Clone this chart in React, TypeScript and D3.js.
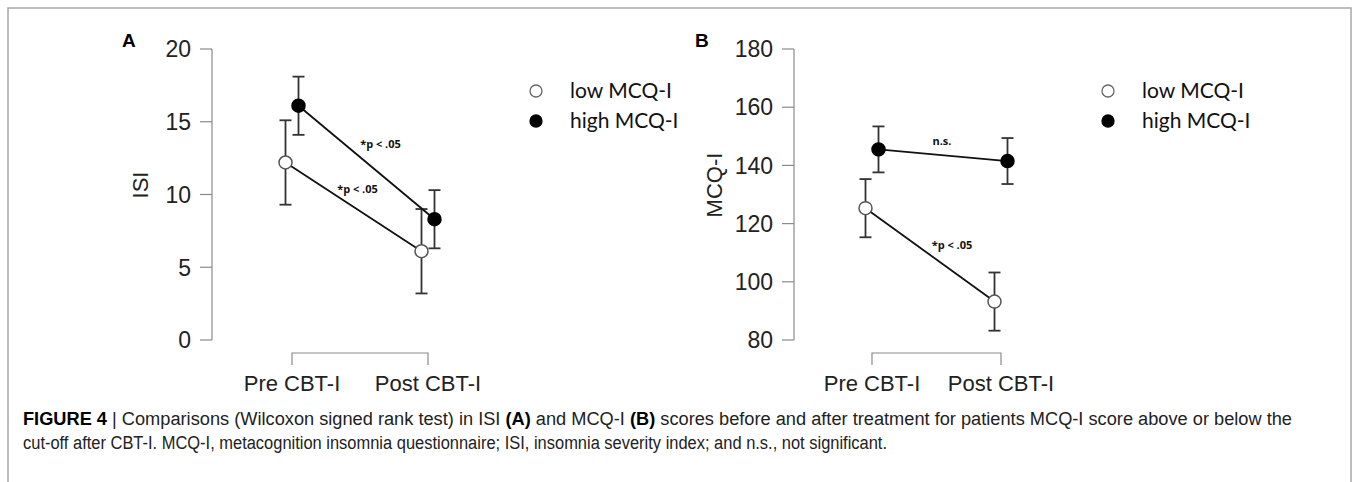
import React from "react";
import * as d3 from "d3";

// categories and values
const categories = ["Pre CBT-I", "Post CBT-I"];
const groups = ["low MCQ-I", "high MCQ-I"];

const isiTicks = [0, 5, 10, 15, 20];
const isiLow = [12.2, 6.1];
const isiLowErr = [2.9, 2.9];
const isiHigh = [16.1, 8.3];
const isiHighErr = [2.0, 2.0];
const isiNotes = ["*p < .05", "*p < .05"]; // low, high

const mcqTicks = [80, 100, 120, 140, 160, 180];
const mcqLow = [125.3, 93.2];
const mcqLowErr = [10.0, 10.0];
const mcqHigh = [145.5, 141.5];
const mcqHighErr = [7.9, 7.9];
const mcqNotes = ["*p < .05", "n.s."];

const captionLine1 = [
  { t: "FIGURE 4 ", b: true },
  { t: "|  Comparisons (Wilcoxon signed rank test) in ISI ", b: false },
  { t: "(A)", b: true },
  { t: " and MCQ-I ", b: false },
  { t: "(B)", b: true },
  { t: " scores before and after treatment for patients MCQ-I score above or below the", b: false },
];
const captionLine2 =
  "cut-off after CBT-I. MCQ-I, metacognition insomnia questionnaire; ISI, insomnia severity index; and n.s., not significant.";

const AXIS = "#8a8a8a";
const INK = "#222";

type PanelProps = {
  letter: string;
  letterX: number;
  axisX: number;
  xRange: [number, number];
  ticks: number[];
  yLabel: string;
  yLabelGap: number;
  low: number[];
  lowErr: number[];
  high: number[];
  highErr: number[];
  notes: string[];
  noteOffsets: [number, number][];
  legendX: number;
};

const Panel = (p: PanelProps) => {
  const y = d3
    .scaleLinear()
    .domain([p.ticks[0], p.ticks[p.ticks.length - 1]])
    .range([340, 49]);
  const x = d3.scalePoint<string>().domain(categories).range(p.xRange);
  const dodge = 6.5;
  const series = [
    { vals: p.low, err: p.lowErr, dx: -dodge, fill: "#fff", stroke: "#555" },
    { vals: p.high, err: p.highErr, dx: dodge, fill: "#000", stroke: "#000" },
  ];
  const line = d3
    .line<[number, number]>()
    .x((d) => d[0])
    .y((d) => d[1]);

  return (
    <g>
      <text
        x={p.letterX}
        y={47}
        fontFamily="Liberation Sans, Arial, sans-serif"
        fontWeight="bold"
        fontSize={19}
        fill="#000"
      >
        {p.letter}
      </text>

      {/* y axis */}
      <line x1={p.axisX} x2={p.axisX} y1={y.range()[1]} y2={y.range()[0]} stroke={AXIS} strokeWidth={1.2} />
      {p.ticks.map((t) => (
        <g key={t}>
          <line x1={p.axisX - 12} x2={p.axisX} y1={y(t)} y2={y(t)} stroke={AXIS} strokeWidth={1.2} />
          <text
            x={p.axisX - 21}
            y={y(t)}
            dy="0.36em"
            textAnchor="end"
            fontFamily="Liberation Sans, Arial, sans-serif"
            fontSize={23}
            fill={INK}
          >
            {t}
          </text>
        </g>
      ))}
      <text
        transform={`translate(${p.axisX - p.yLabelGap},${185}) rotate(-90)`}
        textAnchor="middle"
        fontFamily="Liberation Sans, Arial, sans-serif"
        fontSize={22}
        fill={INK}
      >
        {p.yLabel}
      </text>

      {/* x bracket */}
      <path
        d={`M${x(categories[0])},365V353H${x(categories[1])}V365`}
        fill="none"
        stroke={AXIS}
        strokeWidth={1.2}
      />
      {categories.map((c) => (
        <text
          key={c}
          x={x(c)}
          y={391}
          textAnchor="middle"
          fontFamily="Liberation Sans, Arial, sans-serif"
          fontSize={22}
          fill={INK}
        >
          {c}
        </text>
      ))}

      {/* lines, error bars, points */}
      {series.map((s, si) => {
        const pts: [number, number][] = categories.map((c, i) => [x(c)! + s.dx, y(s.vals[i])]);
        const mid: [number, number] = [(pts[0][0] + pts[1][0]) / 2, (pts[0][1] + pts[1][1]) / 2];
        return (
          <g key={si}>
            <path d={line(pts) ?? ""} fill="none" stroke="#111" strokeWidth={1.8} />
            <text
              x={mid[0] + p.noteOffsets[si][0]}
              y={mid[1] + p.noteOffsets[si][1]}
              textAnchor="middle"
              fontFamily="Open Sans, sans-serif"
              fontWeight="bold"
              fontSize={11}
              fill="#111"
            >
              {p.notes[si]}
            </text>
            {categories.map((c, i) => {
              const cx = x(c)! + s.dx;
              const top = y(s.vals[i] + s.err[i]);
              const bot = y(s.vals[i] - s.err[i]);
              return (
                <g key={c} stroke="#333" strokeWidth={1.8}>
                  <line x1={cx} x2={cx} y1={top} y2={bot} />
                  <line x1={cx - 6} x2={cx + 6} y1={top} y2={top} />
                  <line x1={cx - 6} x2={cx + 6} y1={bot} y2={bot} />
                </g>
              );
            })}
            {pts.map((pt, i) => (
              <circle key={i} cx={pt[0]} cy={pt[1]} r={6.5} fill={s.fill} stroke={s.stroke} strokeWidth={1.5} />
            ))}
          </g>
        );
      })}

      {/* legend */}
      {groups.map((g, i) => (
        <g key={g} transform={`translate(${p.legendX},${91 + i * 30})`}>
          <circle
            r={6}
            fill={series[i].fill}
            stroke={i === 0 ? "#666" : "#000"}
            strokeWidth={1.3}
          />
          <text x={34} dy="0.35em" fontFamily="Lato, sans-serif" fontSize={21} fill="#111">
            {g}
          </text>
        </g>
      ))}
    </g>
  );
};

const App = () => {
  return (
    <svg
      width={1354}
      height={482}
      style={{ position: "absolute", left: 0, top: 0, background: "#fff" }}
    >
      <path d="M8,482V8H1351V482" fill="none" stroke="#a8a8a8" strokeWidth={1.5} />

      <Panel
        letter="A"
        letterX={122}
        axisX={212}
        xRange={[292, 428]}
        ticks={isiTicks}
        yLabel="ISI"
        yLabelGap={64}
        low={isiLow}
        lowErr={isiLowErr}
        high={isiHigh}
        highErr={isiHighErr}
        notes={isiNotes}
        noteOffsets={[
          [4, -14],
          [14, -14],
        ]}
        legendX={536}
      />
      <Panel
        letter="B"
        letterX={695}
        axisX={794}
        xRange={[872, 1001]}
        ticks={mcqTicks}
        yLabel="MCQ-I"
        yLabelGap={72}
        low={mcqLow}
        lowErr={mcqLowErr}
        high={mcqHigh}
        highErr={mcqHighErr}
        notes={mcqNotes}
        noteOffsets={[
          [22, -6],
          [-1, -10],
        ]}
        legendX={1108}
      />

      <g fontFamily="Liberation Sans Narrow, Arial Narrow, sans-serif" fontSize={18} fill="#222">
        <text x={23} y={425} textLength={1269} lengthAdjust="spacingAndGlyphs">
          {captionLine1.map((s, i) => (
            <tspan key={i} fontWeight={s.b ? "bold" : "normal"} fill={s.b ? "#000" : "#222"}>
              {s.t}
            </tspan>
          ))}
        </text>
        <text x={23} y={449} textLength={864} lengthAdjust="spacingAndGlyphs">
          {captionLine2}
        </text>
      </g>
    </svg>
  );
};

export default App;
